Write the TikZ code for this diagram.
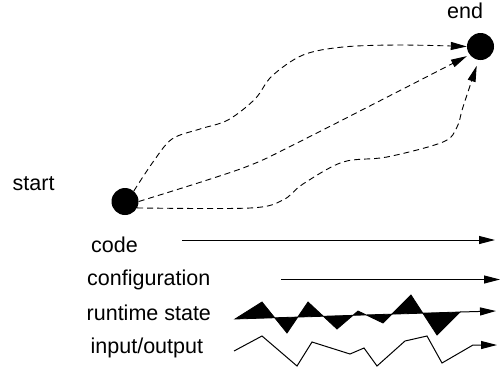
\documentclass[tikz,border=0pt]{standalone}
\usepackage{fontspec}
\setmainfont{Liberation Sans}
\usetikzlibrary{arrows.meta}
\tikzset{
  dot/.style={circle,fill=black,inner sep=0pt,minimum size=27pt},
  lbl/.style={anchor=base west,inner sep=0pt,font=\fontsize{21.5}{25}\selectfont},
  route/.style={line width=0.9pt,dash pattern=on 6pt off 4pt,-{Triangle[length=16pt,width=8pt]}},
  flow/.style={line width=1pt,-{Triangle[length=16pt,width=8pt]}},
}
\begin{document}
\begin{tikzpicture}[x=1pt,y=-1pt]
\useasboundingbox (0,0) rectangle (502,367);
% nodes
\node[dot] (start) at (125,201.5) {};
\node[dot] (end) at (480.5,46.5) {};
\node[lbl] (startlbl) at (12.5,190) {start};
\node[lbl] (endlbl) at (447,18) {end};
\node[lbl] (codelbl) at (91,252) {code};
\node[lbl] (conflbl) at (87,285) {configuration};
\node[lbl] (rtlbl) at (86.5,320) {runtime state};
\node[lbl] (iolbl) at (90.5,353) {input/output};
% dashed routes
\draw[route] plot[smooth,tension=0.55] coordinates {(start.50) (153,162) (172,139) (200,129) (228,120) (255,99) (272,76) (303,55) (343,47) (400,45) (end.west)};
\draw[route,shorten >=3pt] plot[smooth,tension=0.5] coordinates {(start.east) (243,168) (303,140) (end.217)};
\draw[route,shorten >=6pt] plot[smooth,tension=0.55] coordinates {(start.-28) (250,208) (283,200) (303,184) (343,162) (387,157) (443,142) (457,127) (463,107) (end.262)};
% code
\coordinate (c0) at (182,240);
\coordinate (c1) at (495,240);
\draw[flow] (c0) -- (c1);
% configuration
\coordinate (f0) at (281,279.5);
\coordinate (f1) at (500,279.5);
\draw[flow] (f0) -- (f1);
% runtime state
\coordinate (r0) at (460,312);
\coordinate (r1) at (496,311);
\filldraw[line width=0.8pt,line join=miter] (235,319) -- (262,302) -- (287,333) -- (308,302) -- (337,329) -- (358,311) -- (383,323) -- (411,295) -- (437,335) -- (r0) -- cycle;
\draw[flow] (r0) -- (r1);
% input/output
\coordinate (i1) at (497,345);
\draw[flow,line join=miter] (234,351) -- (262,336) -- (297,366) -- (312,342) -- (350,354) -- (364,348) -- (377,366) -- (405,341) -- (427,336) -- (442,363) -- (473,345) -- (i1);
\end{tikzpicture}
\end{document}
